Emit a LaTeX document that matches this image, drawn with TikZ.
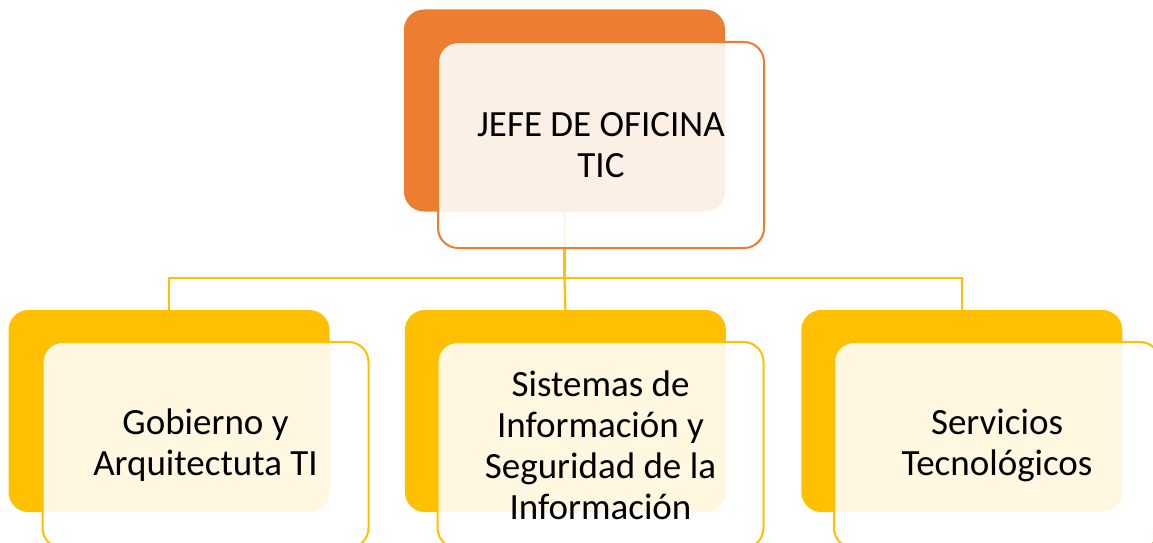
\documentclass[tikz,border=0pt]{standalone}
\usepackage{fontspec}
\setmainfont{Carlito}
\usetikzlibrary{positioning}
\definecolor{jefeorange}{HTML}{ED7D31}
\definecolor{areayellow}{HTML}{FFC000}

\tikzset{
    backbox/.style={rounded corners=20pt, minimum width=321pt, minimum height=202pt, inner sep=0pt, fill=#1},
    frontbox/.style={draw=#1, line width=2pt, rounded corners=20pt, fill=white, fill opacity=0.88,
        text opacity=1, minimum width=326pt, minimum height=206pt, inner sep=0pt, align=center,
        font=\fontsize{37}{41}\selectfont},
    link/.style={draw=areayellow, line width=2.2pt}
}

\begin{document}
\begin{tikzpicture}[x=1pt, y=-1pt]
    \useasboundingbox (0,0) rectangle (1153,543);
            % back panels
            \node [backbox=jefeorange] (jefeback) at (564.5,110.5) {};
            \node [backbox=areayellow] (gobback) at (169,411) {};
            \node [backbox=areayellow, right=75pt of gobback] (sisback) {};
            \node [backbox=areayellow, right=75pt of sisback] (servback) {};
            % connectors
            \coordinate (bus) at (564.5,278);
            \draw [link] (jefeback.south) -- (bus);
            \draw [link] (gobback.north) |- (bus) -| (servback.north);
            \draw [link] (bus) -- (sisback.north);
            % front panels
            \node [frontbox=jefeorange] (jefe) at (601,145) {JEFE DE OFICINA\\TIC};
            \node [frontbox=areayellow] (gob) at (205.5,445) {Gobierno y\\Arquitectuta TI};
            \node [frontbox=areayellow] (sis) at (600.5,445) {Sistemas de\\Información y\\Seguridad de la\\Información};
            \node [frontbox=areayellow] (serv) at (997,445) {Servicios\\Tecnológicos};
\end{tikzpicture}
\end{document}
